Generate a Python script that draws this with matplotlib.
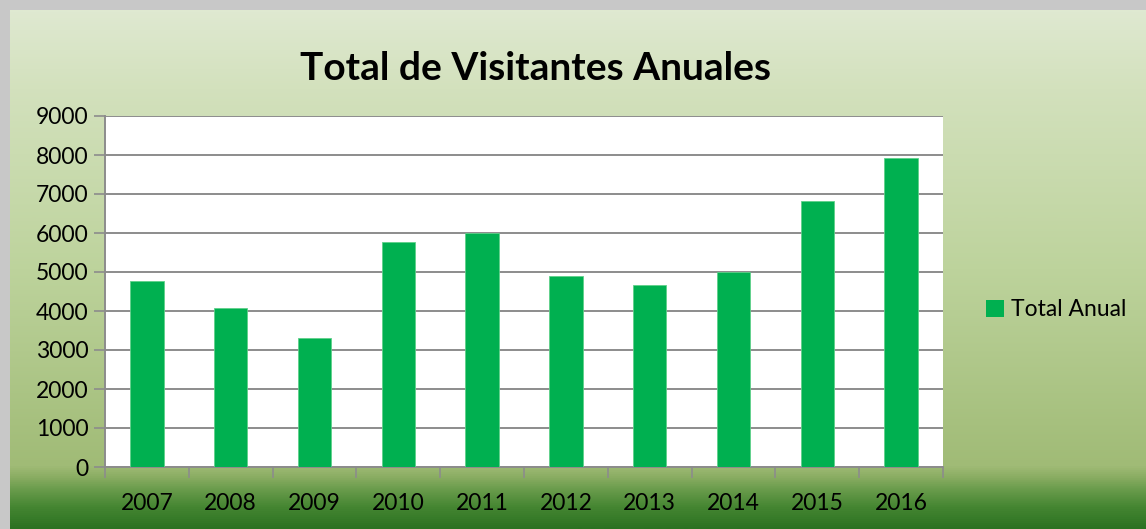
import numpy as np
import matplotlib
matplotlib.use('Agg')
import matplotlib.pyplot as plt
from matplotlib.colors import LinearSegmentedColormap
from matplotlib.patches import Patch

years = ['2007', '2008', '2009', '2010', '2011', '2012', '2013', '2014', '2015', '2016']
totals = [4760, 4070, 3300, 5780, 6010, 4900, 4670, 4990, 6820, 7920]
series_name = 'Total Anual'
title = 'Total de Visitantes Anuales'

plt.rcParams['font.family'] = ['Lato', 'DejaVu Sans']

fig = plt.figure(figsize=(11.46, 5.29), dpi=100)
fig.patch.set_facecolor('#c8c8c8')

# background gradient of the chart area (Excel style)
bg = fig.add_axes([10/1146, 0, 1136/1146, 519/529])
bg.set_axis_off()
stops = [(0.0, '#2c7222'), (0.04, '#448531'), (0.075, '#6a9c4c'),
         (0.1, '#8cae64'), (0.12, '#a0bb76'), (0.5, '#bdd39c'),
         (0.85, '#d3e1bd'), (1.0, '#dfe9d1')]
cmap = LinearSegmentedColormap.from_list('bg', stops)
grad = np.linspace(0, 1, 512).reshape(-1, 1)
bg.imshow(grad, aspect='auto', cmap=cmap, origin='lower', extent=[0, 1, 0, 1])

ax = fig.add_axes([105/1146, (529-467)/529, (943-105)/1146, (467-116)/529])
ax.set_facecolor('white')
x = np.arange(len(years))
ax.bar(x, totals, width=0.4, color='#00b050', edgecolor='#5fd08a', linewidth=0.6,
       zorder=3, label=series_name)
ax.set_xlim(-0.5, len(years) - 0.5)
ax.set_ylim(0, 9000)
ax.set_yticks(range(0, 9001, 1000))
ax.yaxis.grid(True, color='#8c8c8c', linewidth=1.4, zorder=0)
ax.set_xticks(x)
ax.set_xticklabels(years)
ax.set_xticks(np.arange(-0.5, len(years)), minor=True)
ax.tick_params(axis='x', which='major', length=0, pad=19, labelsize=16.5)
ax.tick_params(axis='x', which='minor', length=8, color='#8c8c8c', width=1.2)
ax.tick_params(axis='y', length=8, color='#8c8c8c', width=1.2, labelsize=16.5, pad=4)
for s in ['top', 'right']:
    ax.spines[s].set_visible(False)
for s in ['left', 'bottom']:
    ax.spines[s].set_color('#8c8c8c')
    ax.spines[s].set_linewidth(1.4)

fig.text(535/1146, 1 - 68/529, title, ha='center', va='center',
         fontsize=28, fontweight='bold')

fig.legend(handles=[Patch(facecolor='#00b050', label=series_name)],
           loc='center left', bbox_to_anchor=(965/1146, 1 - 310/529),
           frameon=False, fontsize=16.5, handlelength=0.8, handleheight=0.8,
           handletextpad=0.3)

fig.savefig('out.png', dpi=100)
